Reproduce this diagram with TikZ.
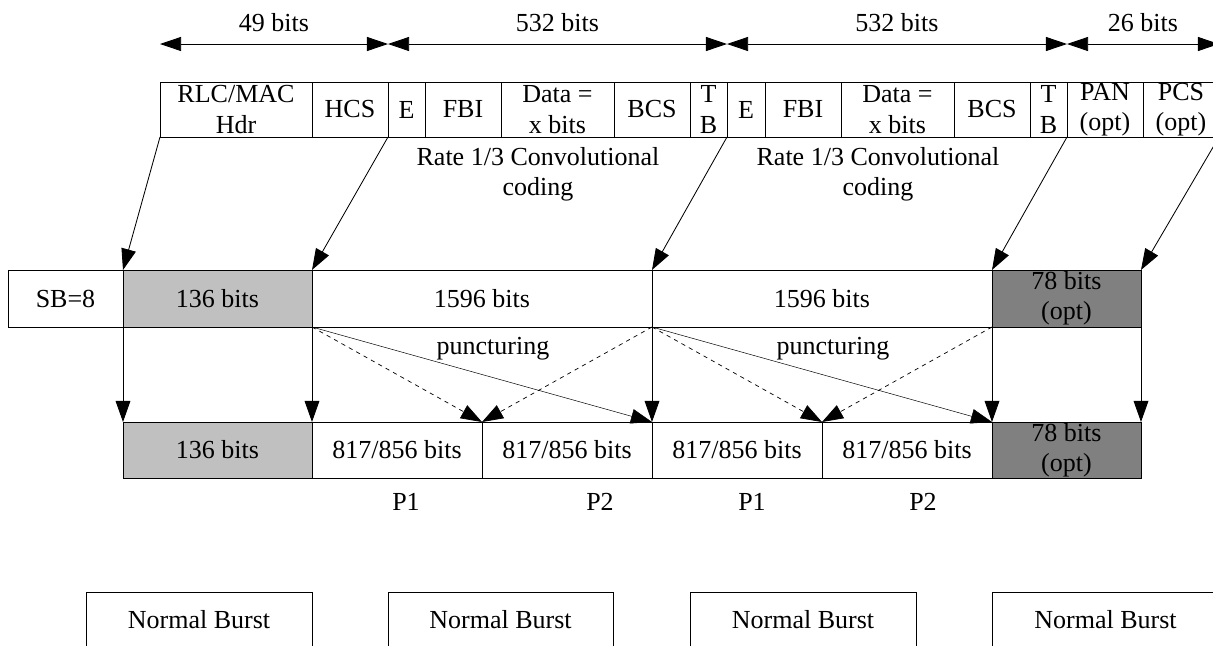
\documentclass[tikz,border=0pt]{standalone}
\usepackage{fontspec}
\setmainfont{Liberation Serif}
\usetikzlibrary{arrows.meta}

\definecolor{cellgray}{RGB}{192,192,192}
\definecolor{celldark}{RGB}{128,128,128}

\begin{document}
\begin{tikzpicture}[x=0.025cm, y=-0.025cm,
    font=\fontsize{18.5}{21.5}\selectfont,
    cell/.style={draw, line width=0.6pt, inner sep=0pt, outer sep=0pt, align=center, anchor=north west},
    sz/.style 2 args={minimum width=#1*0.025cm, minimum height=#2*0.025cm},
    graycell/.style={cell, fill=cellgray},
    darkcell/.style={cell, fill=celldark},
    down/.style={-{Triangle[length=15pt,width=10.5pt]}, line width=0.6pt},
    bitspan/.style={{Triangle[length=15pt,width=10pt]}-{Triangle[length=15pt,width=10pt]}, line width=0.6pt},
    ]
    \clip (0,0) rectangle (1213,646);

    % 上行
    \node[cell, sz={152}{55}] (hdr) at (160,82) {RLC/MAC\\Hdr};
    \node[cell, sz={76}{55}] (hcs) at (312,82) {HCS};
    \node[cell, sz={37}{55}] (e1) at (388,82) {E};
    \node[cell, sz={76}{55}] (fbi1) at (425,82) {FBI};
    \node[cell, sz={113}{55}] (data1) at (501,82) {Data =\\x bits};
    \node[cell, sz={76}{55}] (bcs1) at (614,82) {BCS};
    \node[cell, sz={37}{55}] (tb1) at (690,82) {T\\B};
    \node[cell, sz={38}{55}] (e2) at (727,82) {E};
    \node[cell, sz={76}{55}] (fbi2) at (765,82) {FBI};
    \node[cell, sz={113}{55}] (data2) at (841,82) {Data =\\x bits};
    \node[cell, sz={76}{55}] (bcs2) at (954,82) {BCS};
    \node[cell, sz={37}{55}] (tb2) at (1030,82) {T\\B};
    \node[cell, sz={76}{55}] (pan) at (1067,82) {PAN\\(opt)};
    \node[cell, sz={76}{55}] (pcs) at (1143,82) {PCS\\(opt)};

    % 比特数
    \coordinate (lvl) at (0,44);
    \draw[bitspan] (hdr.north west |- lvl) -- (hcs.north east |- lvl) node[midway, above=5pt] {49 bits};
    \draw[bitspan] (e1.north west |- lvl) -- (tb1.north east |- lvl) node[midway, above=5pt] {532 bits};
    \draw[bitspan] (e2.north west |- lvl) -- (tb2.north east |- lvl) node[midway, above=5pt] {532 bits};
    \draw[bitspan] (pan.north west |- lvl) -- (pcs.north east |- lvl) node[midway, above=5pt] {26 bits};

    \node[align=center] (rate1) at (538,174) {Rate 1/3 Convolutional\\coding};
    \node[align=center] (rate2) at (878,174) {Rate 1/3 Convolutional\\coding};

    % 中行
    \node[cell, sz={115}{57}] (sb) at (8,270) {SB=8};
    \node[graycell, sz={189}{57}] (m136) at (123,270) {136 bits};
    \node[cell, sz={340}{57}] (m1) at (312,270) {1596 bits};
    \node[cell, sz={340}{57}] (m2) at (652,270) {1596 bits};
    \node[darkcell, sz={149}{57}] (m78) at (992,270) {78 bits\\(opt)};

    \draw[down] (hdr.south west) -- (m136.north west);
    \draw[down] (hcs.south east) -- (m1.north west);
    \draw[down] (tb1.south east) -- (m2.north west);
    \draw[down] (tb2.south east) -- (m78.north west);
    \draw[down] (pcs.south east) -- (m78.north east);

    \node (punct1) at (493,349) {puncturing};
    \node (punct2) at (833,349) {puncturing};

    % 下行
    \node[graycell, sz={189}{56}] (b136) at (123,422) {136 bits};
    \node[cell, sz={170}{56}] (p1a) at (312,422) {817/856 bits};
    \node[cell, sz={170}{56}] (p2a) at (482,422) {817/856 bits};
    \node[cell, sz={170}{56}] (p1b) at (652,422) {817/856 bits};
    \node[cell, sz={170}{56}] (p2b) at (822,422) {817/856 bits};
    \node[darkcell, sz={149}{56}] (b78) at (992,422) {78 bits\\(opt)};

    \draw[down] (m136.south west) -- (b136.north west);
    \draw[down] (m136.south east) -- (b136.north east);
    \draw[down] (m1.south east) -- (p2a.north east);
    \draw[down] (m2.south east) -- (b78.north west);
    \draw[down] (m78.south east) -- (b78.north east);

    % 打孔
    \draw[down, dashed, line width=0.5pt] (m1.south west) -- (p1a.north east);
    \draw[down, dashed, line width=0.5pt] (m1.south east) -- (p1a.north east);
    \draw[down, dashed, line width=0.5pt] (m2.south west) -- (p1b.north east);
    \draw[down, dashed, line width=0.5pt] (m2.south east) -- (p1b.north east);
    \draw[down, line width=0.35pt] (m1.south west) -- (p2a.north east);
    \draw[down, line width=0.35pt] (m2.south west) -- (p2b.north east);

    \node (lp1a) at (406,502) {P1};
    \node (lp2a) at (600,502) {P2};
    \node (lp1b) at (752,502) {P1};
    \node (lp2b) at (923,502) {P2};

    % 突发
    \node[cell, sz={226}{56}] (nb1) at (86,592) {Normal Burst};
    \node[cell, sz={225}{56}] (nb2) at (388,592) {Normal Burst};
    \node[cell, sz={226}{56}] (nb3) at (690,592) {Normal Burst};
    \node[cell, sz={227}{56}] (nb4) at (992,592) {Normal Burst};
\end{tikzpicture}
\end{document}
